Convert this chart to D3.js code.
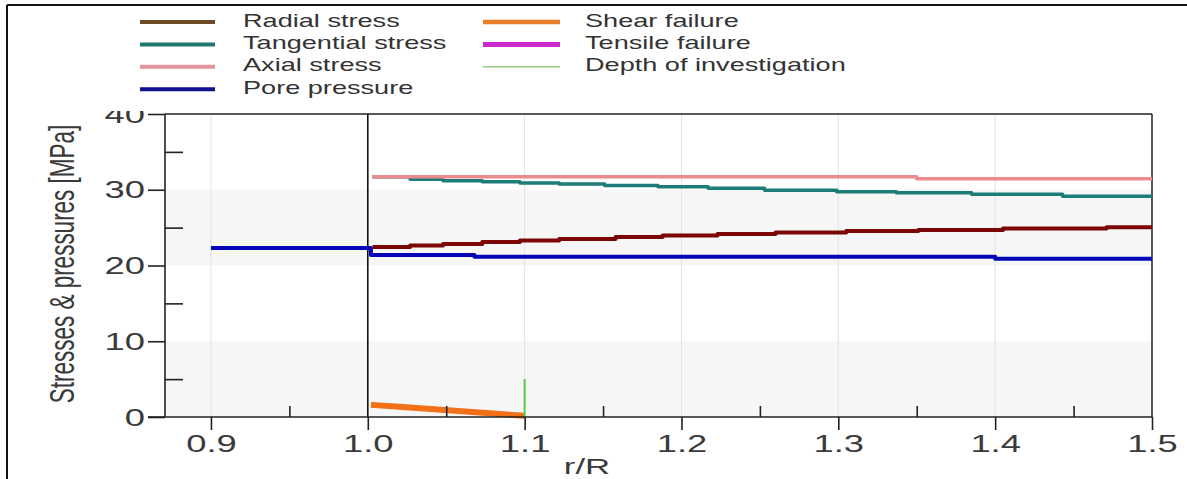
<!DOCTYPE html>
<html>
<head>
<meta charset="utf-8">
<script src="https://cdn.jsdelivr.net/npm/d3@7/dist/d3.min.js"></script>
<style>
  html, body { margin: 0; padding: 0; background: #fff; }
  svg { display: block; }
  text { font-family: "Liberation Sans", Arial, sans-serif; }
</style>
</head>
<body>
<svg id="chart" width="1187" height="479"></svg>
<script>
// ---------------- data ----------------
const xTicks = [0.9, 1.0, 1.1, 1.2, 1.3, 1.4, 1.5];
const xMinorTicks = [0.95, 1.05, 1.15, 1.25, 1.35, 1.45];
const yTicks = [0, 10, 20, 30, 40];
const yMinorTicks = [5, 15, 25, 35];
const xLabels = ["0.9", "1.0", "1.1", "1.2", "1.3", "1.4", "1.5"];

const poreR = [0.9, 1.0, 1.002, 1.068, 1.40, 1.5];
const poreV = [22.3, 22.3, 21.4, 21.15, 20.9, 20.9];

const radialR = [1.003, 1.027, 1.048, 1.073, 1.097, 1.122, 1.158, 1.188, 1.223, 1.26, 1.305, 1.351, 1.405, 1.471, 1.5];
const radialV = [22.45, 22.65, 22.85, 23.1, 23.3, 23.5, 23.75, 23.95, 24.15, 24.35, 24.55, 24.7, 24.9, 25.05, 25.05];

const tangR = [1.003, 1.027, 1.048, 1.073, 1.097, 1.122, 1.151, 1.185, 1.217, 1.253, 1.299, 1.337, 1.385, 1.443, 1.5];
const tangV = [31.7, 31.4, 31.2, 31.05, 30.9, 30.75, 30.55, 30.4, 30.2, 29.95, 29.75, 29.6, 29.4, 29.15, 29.15];

const axialR = [1.003, 1.35, 1.5];
const axialV = [31.7, 31.45, 31.45];

const shearR = [1.002, 1.02, 1.04, 1.06, 1.08, 1.1];
const shearV = [1.6, 1.35, 1.05, 0.75, 0.45, 0.15];

const depthR = [1.1, 1.1];
const depthV = [0, 5];

const legendNames = ["Radial stress", "Tangential stress", "Axial stress", "Pore pressure",
                     "Shear failure", "Tensile failure", "Depth of investigation"];

// ---------------- layout ----------------
const svg = d3.select("#chart");
const L = 165, T = 114, R = 1152, B = 417;
const x = d3.scaleLinear().domain([0.8707, 1.5]).range([L, R]);
const y = d3.scaleLinear().domain([0, 40]).range([B, T]);
const SX = 1.58; // horizontal stretch of text seen in the reference

// outer frame
svg.append("line").attr("x1", 7).attr("x2", 1187).attr("y1", 5).attr("y2", 5).attr("stroke", "#111").attr("stroke-width", 2);
svg.append("line").attr("x1", 7).attr("x2", 7).attr("y1", 5).attr("y2", 479).attr("stroke", "#111").attr("stroke-width", 2);

// bands
[[20, 30], [0, 10]].forEach(b => {
  svg.append("rect").attr("x", L).attr("width", R - L)
    .attr("y", y(b[1])).attr("height", y(b[0]) - y(b[1])).attr("fill", "#f6f6f6");
});
// vertical grid
svg.append("g").selectAll("line").data([0.9, 1.1, 1.2, 1.3, 1.4]).join("line")
  .attr("x1", d => x(d)).attr("x2", d => x(d)).attr("y1", T).attr("y2", B)
  .attr("stroke", "#e3e3e3").attr("stroke-width", 1);

// plot box (top, right)
svg.append("line").attr("x1", L).attr("x2", R).attr("y1", T).attr("y2", T).attr("stroke", "#222").attr("stroke-width", 1.5);
svg.append("line").attr("x1", R).attr("x2", R).attr("y1", T).attr("y2", B).attr("stroke", "#222").attr("stroke-width", 1.5);
// vertical line at r/R = 1
svg.append("line").attr("x1", x(1.0)).attr("x2", x(1.0)).attr("y1", T).attr("y2", B).attr("stroke", "#111").attr("stroke-width", 1.6);

// ---------------- series ----------------
function series(rs, vs, color, width, curve) {
  const pts = rs.map((r, i) => [r, vs[i]]);
  const line = d3.line().x(d => x(d[0])).y(d => y(d[1])).curve(curve || d3.curveLinear);
  svg.append("path").datum(pts).attr("d", line).attr("fill", "none")
    .attr("stroke", color).attr("stroke-width", width).attr("stroke-linejoin", "round");
}
series(poreR, poreV, "#0505b8", 4, d3.curveStepAfter);
series(radialR, radialV, "#7a0606", 4, d3.curveStepAfter);
series(tangR, tangV, "#1b7c78", 3.5, d3.curveStepAfter);
series(axialR, axialV, "#ec8a8c", 3.5, d3.curveStepAfter);
series(shearR, shearV, "#f27018", 6);
series(depthR, depthV, "#55cc44", 2);

// ---------------- axes ----------------
const gx = svg.append("g").attr("transform", `translate(0,${B})`)
  .call(d3.axisBottom(x).tickValues(xTicks).tickSize(13).tickFormat((d, i) => xLabels[i]));
const gxm = svg.append("g").attr("transform", `translate(0,${B})`)
  .call(d3.axisTop(x).tickValues(xMinorTicks).tickSize(11).tickFormat(""));
const gy = svg.append("g").attr("transform", `translate(${L},0)`)
  .call(d3.axisLeft(y).tickValues(yTicks).tickSize(17).tickFormat(d3.format("d")));
const gym = svg.append("g").attr("transform", `translate(${L},0)`)
  .call(d3.axisRight(y).tickValues(yMinorTicks).tickSize(18).tickFormat(""));

[gx, gxm, gy, gym].forEach(g => {
  g.select(".domain").attr("stroke", "#222").attr("stroke-width", 1.6);
  g.selectAll(".tick line").attr("stroke", "#222").attr("stroke-width", 1.6);
});
gxm.select(".domain").remove();
gym.select(".domain").remove();
gx.select(".domain").attr("d", `M${L},0H${R}`);
gy.select(".domain").attr("d", `M0,${B}V${T}`);
gx.append("line").attr("x1", L - 17).attr("x2", L).attr("y1", 0).attr("y2", 0).attr("stroke", "#222").attr("stroke-width", 1.6);

gx.selectAll(".tick text")
  .attr("y", null).attr("dy", null)
  .attr("transform", `translate(0,35) scale(${SX},1)`)
  .attr("font-size", 23).attr("fill", "#3a3a3a");
gy.selectAll(".tick text")
  .attr("x", null).attr("dy", null)
  .attr("transform", `translate(-20,8) scale(${SX},1)`)
  .attr("font-size", 23).attr("fill", "#3a3a3a");

// cover the top of the "40" label like the reference
svg.append("rect").attr("x", 90).attr("y", 8).attr("width", 70).attr("height", 103).attr("fill", "#fff");

// axis titles
svg.append("text").attr("transform", `translate(62,264) scale(${SX},1) rotate(-90)`)
  .attr("text-anchor", "middle").attr("dy", "0.35em").attr("font-size", 22.5).attr("fill", "#3a3a3a")
  .text("Stresses & pressures [MPa]");
svg.append("text").attr("transform", `translate(587,474) scale(${SX},1)`)
  .attr("text-anchor", "middle").attr("font-size", 22).attr("fill", "#3a3a3a").text("r/R");

// ---------------- legend ----------------
const legendColors = ["#6e4a26", "#21786e", "#e2949a", "#10108e", "#e87e2a", "#c92ac9", "#9ccc7a"];
const legendWidths = [4, 4, 4, 4, 4.5, 5, 1.5];
const legendItems = legendNames.map((n, i) => ({
  name: n, color: legendColors[i], w: legendWidths[i],
  col: i < 4 ? 0 : 1, row: i < 4 ? i : i - 4
}));
const colX = [[140, 215, 243], [483, 560, 585]];
const lg = svg.append("g").selectAll("g").data(legendItems).join("g")
  .attr("transform", d => `translate(0,${22 + d.row * 22.4})`);
lg.append("line")
  .attr("x1", d => colX[d.col][0]).attr("x2", d => colX[d.col][1])
  .attr("stroke", d => d.color).attr("stroke-width", d => d.w);
lg.append("text")
  .attr("transform", d => `translate(${colX[d.col][2]},4.5) scale(1.55,1)`)
  .attr("font-size", 17.5).attr("fill", "#333")
  .text(d => d.name);
</script>
</body>
</html>
